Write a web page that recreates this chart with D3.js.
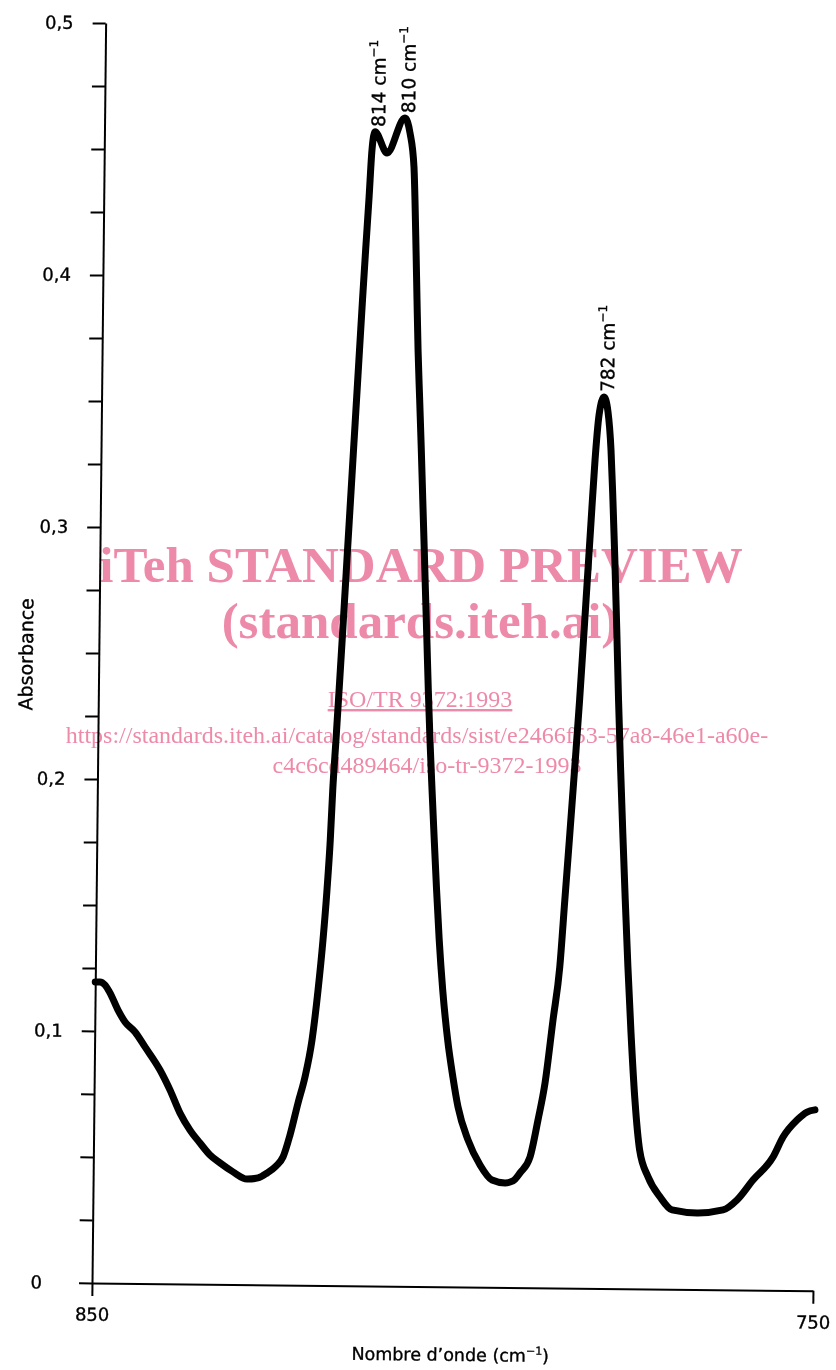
<!DOCTYPE html>
<html>
<head>
<meta charset="utf-8">
<script src="https://cdn.jsdelivr.net/npm/d3@7"></script>
<style>
  body { margin: 0; background: white; }
  svg text { font-family: "DejaVu Sans", sans-serif; fill: #000; stroke: #000; stroke-width: 0.35; }
  .axis path, .axis line { stroke: #000; stroke-width: 2; }
  .spectrum { fill: none; stroke: #000; stroke-width: 7; stroke-linejoin: round; stroke-linecap: round; }
  svg text.watermark { font-family: "Liberation Serif", serif; fill: #ee8aa9; stroke: none; mix-blend-mode: multiply; }
</style>
</head>
<body>
<script>
// spectrum
var wavenumbers = [850.0, 849.34, 848.64, 847.94, 846.80, 845.81, 844.41, 843.00, 840.89, 839.47,
  838.05, 836.64, 835.23, 833.83, 832.43, 830.61, 828.66, 827.13, 825.89, 824.66,
  823.70, 822.76, 821.70, 820.77, 819.85, 819.09, 818.48, 818.00, 817.62, 817.35,
  816.98, 816.62, 816.27, 815.93, 815.66, 815.32, 814.98, 814.64, 814.30, 813.96,
  813.60, 813.22, 812.87, 812.48, 810.78, 808.34, 807.62, 807.02, 806.83, 806.61,
  806.40, 806.18, 805.88, 805.58, 805.30, 805.02, 804.80, 804.52, 804.25, 803.94,
  803.58, 803.20, 802.80, 802.36, 801.80, 801.04, 800.26, 799.50, 798.07, 796.36,
  794.68, 792.87, 791.76, 790.80, 789.44, 788.39, 787.47, 786.46, 785.60, 785.00,
  784.40, 783.82, 783.25, 782.80, 782.36, 781.92, 781.47, 780.98, 780.32, 779.74,
  779.27, 778.93, 778.57, 778.20, 777.85, 777.47, 777.06, 776.62, 776.15, 775.62,
  774.98, 774.25, 773.04, 771.35, 769.67, 766.19, 762.59, 760.67, 758.48, 755.74,
  754.38, 752.46, 751.09, 750.0];

var absorbance = [0.1195, 0.1195, 0.1183, 0.1152, 0.1084, 0.1037, 0.0998, 0.0939, 0.0848, 0.0769,
  0.0678, 0.0611, 0.0560, 0.0513, 0.0482, 0.0447, 0.0419, 0.0424, 0.0444, 0.0472,
  0.0508, 0.0596, 0.0723, 0.0827, 0.0974, 0.1172, 0.1371, 0.1570, 0.1768, 0.1967,
  0.2165, 0.2364, 0.2562, 0.2761, 0.2920, 0.3118, 0.3317, 0.3515, 0.3714, 0.3912,
  0.4111, 0.4310, 0.4508, 0.4580, 0.4497, 0.4636, 0.4577, 0.4442, 0.4311, 0.4113,
  0.3915, 0.3716, 0.3518, 0.3320, 0.3121, 0.2923, 0.2764, 0.2566, 0.2368, 0.2169,
  0.1971, 0.1773, 0.1574, 0.1376, 0.1178, 0.0980, 0.0833, 0.0714, 0.0584, 0.0485,
  0.0426, 0.0415, 0.0423, 0.0455, 0.0519, 0.0666, 0.0813, 0.1063, 0.1274, 0.1540,
  0.1806, 0.2068, 0.2334, 0.2573, 0.2811, 0.3049, 0.3287, 0.3466, 0.3538, 0.3478,
  0.3328, 0.3130, 0.2891, 0.2614, 0.2336, 0.2070, 0.1809, 0.1543, 0.1277, 0.1015,
  0.0750, 0.0551, 0.0445, 0.0366, 0.0315, 0.0304, 0.0317, 0.0357, 0.0437, 0.0529,
  0.0609, 0.0677, 0.0709, 0.0718];

// axis ticks
var yTicks = [0, 0.025, 0.05, 0.075, 0.1, 0.125, 0.15, 0.175, 0.2, 0.225, 0.25,
  0.275, 0.3, 0.325, 0.35, 0.375, 0.4, 0.425, 0.45, 0.475, 0.5];
var yLabelTicks = [0, 0.1, 0.2, 0.3, 0.4, 0.5];
var yTickLabels = ["0", "0,1", "0,2", "0,3", "0,4", "0,5"];
var xTicks = [850, 750];
var xTickLabels = ["850", "750"];

// peak annotations
var peakWavenumbers = [814, 810, 782];
var peakLabels = ["814", "810", "782"];

// watermark lines of the scanned page
var watermarkLines = ["iTeh STANDARD PREVIEW", "(standards.iteh.ai)", "ISO/TR 9372:1993",
  "https://standards.iteh.ai/catalog/standards/sist/e2466f53-57a8-46e1-a60e-",
  "c4c6cd489464/iso-tr-9372-1993"];

window.onload = function() {
  var w = 836;
  var h = 1370;

  var svg = d3.select("body")
              .append("svg")
              .attr("width", w)
              .attr("height", h);

  // the scan is slightly tilted, so the whole chart gets a small rotation
  var chart = svg.append("g")
                 .attr("transform", "rotate(0.62, 92, 1283)");

  var xScale = d3.scaleLinear()
                 .domain([850, 750])
                 .range([92, 813]);

  var yScale = d3.scaleLinear()
                 .domain([0, 0.5])
                 .range([1283, 23]);

  create_axes(chart, xScale, yScale);
  draw_spectrum(chart, xScale, yScale);
  add_peak_labels(chart, xScale, yScale);
  add_watermark(svg);
}

function create_axes(chart, xScale, yScale) {
  // y-axis
  var yAxis = chart.append("g")
     .attr("class", "axis")
     .attr("transform", "translate(92, 0)")
     .call(d3.axisLeft(yScale)
             .tickValues(yTicks)
             .tickSizeInner(13)
             .tickSizeOuter(0)
             .tickPadding(19)
             .tickFormat(function(d) {
               for (var i = 0; i < yLabelTicks.length; i++) {
                 if (Math.abs(yLabelTicks[i] - d) < 1e-6) {
                   return yTickLabels[i];
                 }
               }
               return "";
             }));

  yAxis.attr("font-size", 18).attr("font-family", "DejaVu Sans");

  // the "0" label sits further out
  yAxis.selectAll(".tick text")
       .filter(function(d) { return d == 0; })
       .attr("x", -50);

  // x-axis
  var xAxis = chart.append("g")
     .attr("class", "axis")
     .attr("transform", "translate(0, 1283)")
     .call(d3.axisBottom(xScale)
             .tickValues(xTicks)
             .tickSizeInner(13)
             .tickSizeOuter(0)
             .tickPadding(12)
             .tickFormat(function(d, i) { return xTickLabels[i]; }));

  xAxis.attr("font-size", 18).attr("font-family", "DejaVu Sans");

  // label x-axis
  var xTitle = chart.append("text")
     .attr("x", 451)
     .attr("y", 1357)
     .attr("text-anchor", "middle")
     .style("font-size", "17.5px");
  xTitle.append("tspan").text("Nombre d\u2019onde (cm");
  xTitle.append("tspan").attr("dy", -7).style("font-size", "11px").text("\u22121");
  xTitle.append("tspan").attr("dy", 7).text(")");

  // label y-axis
  chart.append("text")
     .attr("transform", "translate(26, 655) rotate(-90)")
     .attr("text-anchor", "middle")
     .style("font-size", "19px")
     .text("Absorbance");
}

function draw_spectrum(chart, xScale, yScale) {
  var data = [];
  for (var i = 0; i < wavenumbers.length; i++) {
    data.push([wavenumbers[i], absorbance[i]]);
  }

  var line = d3.line()
               .x(function(d) { return xScale(d[0]); })
               .y(function(d) { return yScale(d[1]); })
               .curve(d3.curveMonotoneX);

  chart.append("path")
     .datum(data)
     .attr("class", "spectrum")
     .attr("d", line);
}

function add_peak_labels(chart, xScale, yScale) {
  peakWavenumbers.forEach(function(p, k) {
    // find the top of the band near the labelled wavenumber
    var best = -1;
    for (var i = 0; i < wavenumbers.length; i++) {
      if (Math.abs(wavenumbers[i] - p) <= 3) {
        if (best < 0 || absorbance[i] > absorbance[best]) {
          best = i;
        }
      }
    }
    var px = xScale(wavenumbers[best]) + 10;
    var py = yScale(absorbance[best]) - 5;

    var t = chart.append("text")
       .attr("transform", "translate(" + px + "," + py + ") rotate(-90)")
       .style("font-size", "18.5px");
    t.append("tspan").text(peakLabels[k] + " cm");
    t.append("tspan").attr("dy", -8).style("font-size", "12px").text("\u22121");
  });
}

function add_watermark(svg) {
  var sizes = [51, 51, 24, 24, 24];
  var weights = ["bold", "bold", "normal", "normal", "normal"];
  var xs = [421, 420, 420, 417, 427];
  var ys = [582, 638, 707, 743, 773];

  svg.selectAll("text.watermark")
     .data(watermarkLines)
     .enter().append("text")
     .attr("class", "watermark")
     .attr("x", function(d, i) { return xs[i]; })
     .attr("y", function(d, i) { return ys[i]; })
     .attr("text-anchor", "middle")
     .style("font-size", function(d, i) { return sizes[i] + "px"; })
     .style("font-weight", function(d, i) { return weights[i]; })
     .style("text-decoration", function(d, i) { return i == 2 ? "underline" : "none"; })
     .text(function(d) { return d; });
}
</script>
</body>
</html>
